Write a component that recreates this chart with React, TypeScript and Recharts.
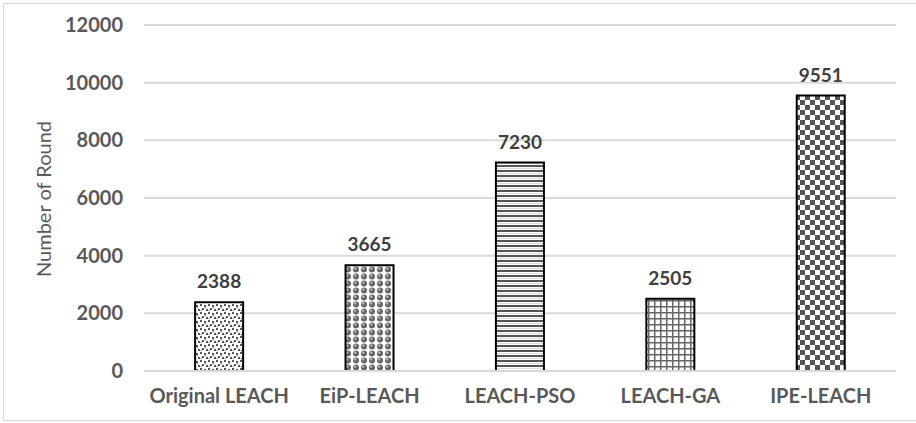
import { BarChart, Bar, XAxis, YAxis, CartesianGrid, Cell, LabelList } from "recharts";

const protocols = ["Original LEACH", "EiP-LEACH", "LEACH-PSO", "LEACH-GA", "IPE-LEACH"];
const rounds = [2388, 3665, 7230, 2505, 9551];
const patternIds = ["pat-dots", "pat-spheres", "pat-hstripes", "pat-grid", "pat-checker"];
const yTicks = [0, 2000, 4000, 6000, 8000, 10000, 12000];

const data = protocols.map((name, i) => ({ name, rounds: rounds[i] }));

const font = "Lato, 'Open Sans', sans-serif";
const axisText = { fill: "#595959", fontSize: 20, fontWeight: 700, fontFamily: font };

const Patterns = () => (
  <defs>
    <pattern id="pat-dots" patternUnits="userSpaceOnUse" width="8" height="8">
      <rect width="8" height="8" fill="#fff" />
      <rect x="0" y="0" width="2" height="2" fill="#555" />
      <rect x="4" y="1" width="2" height="2" fill="#555" />
      <rect x="2" y="4" width="2" height="2" fill="#555" />
      <rect x="6" y="5" width="2" height="2" fill="#555" />
      <rect x="5" y="3" width="1" height="1" fill="#777" />
      <rect x="1" y="6" width="1" height="1" fill="#777" />
    </pattern>
    <pattern id="pat-spheres" patternUnits="userSpaceOnUse" width="8" height="7">
      <rect width="8" height="7" fill="#fff" />
      <circle cx="4" cy="3.5" r="3" fill="#666" />
      <circle cx="3.2" cy="2.6" r="1.1" fill="#ccc" />
    </pattern>
    <pattern id="pat-hstripes" patternUnits="userSpaceOnUse" width="5" height="5">
      <rect width="5" height="5" fill="#fff" />
      <rect y="0" width="5" height="2" fill="#555" />
      <rect y="3" width="5" height="1" fill="#ddd" />
    </pattern>
    <pattern id="pat-grid" patternUnits="userSpaceOnUse" width="6" height="6">
      <rect width="6" height="6" fill="#fff" />
      <rect x="0" y="0" width="1.5" height="6" fill="#666" />
      <rect x="0" y="0" width="6" height="1.5" fill="#666" />
    </pattern>
    <pattern id="pat-checker" patternUnits="userSpaceOnUse" width="10" height="10">
      <rect width="10" height="10" fill="#fff" />
      <rect x="0" y="0" width="5" height="5" fill="#555" />
      <rect x="5" y="5" width="5" height="5" fill="#555" />
    </pattern>
  </defs>
);

const App = () => (
  <div style={{ position: "absolute", left: 0, top: 0, width: 916, height: 423, background: "#fff" }}>
    <div
      style={{
        position: "absolute",
        left: 3,
        top: 3,
        width: 913,
        height: 416,
        borderLeft: "1px solid #d9d9d9",
        borderTop: "1px solid #d9d9d9",
        borderBottom: "1px solid #d9d9d9",
      }}
    />
    <BarChart
      width={916}
      height={423}
      data={data}
      margin={{ top: 25, right: 20, bottom: 22, left: 0 }}
      barCategoryGap="34%"
      style={{ position: "absolute", left: 0, top: 0 }}
    >
      <Patterns />
      <CartesianGrid vertical={false} stroke="#d9d9d9" strokeWidth={2} />
      <XAxis
        dataKey="name"
        height={30}
        tickLine={false}
        axisLine={{ stroke: "#d9d9d9", strokeWidth: 2 }}
        tickSize={0}
        tickMargin={18}
        tick={axisText}
        interval={0}
      />
      <YAxis
        width={144}
        domain={[0, 12000]}
        ticks={yTicks}
        axisLine={false}
        tickLine={false}
        tickSize={0}
        tickMargin={21}
        tick={axisText}
        label={{
          content: () => (
            <text
              x={43}
              y={199}
              transform="rotate(-90 43 199)"
              textAnchor="middle"
              dominantBaseline="central"
              fill="#595959"
              fontSize={20}
              fontFamily={font}
            >
              Number of Round
            </text>
          ),
        }}
      />
      <Bar dataKey="rounds" stroke="#000" strokeWidth={2} isAnimationActive={false}>
        {data.map((d, i) => (
          <Cell key={d.name} fill={`url(#${patternIds[i]})`} />
        ))}
        <LabelList
          dataKey="rounds"
          position="top"
          offset={14}
          fill="#404040"
          fontSize={19}
          fontWeight={700}
          fontFamily={font}
        />
      </Bar>
    </BarChart>
  </div>
);

export default App;
